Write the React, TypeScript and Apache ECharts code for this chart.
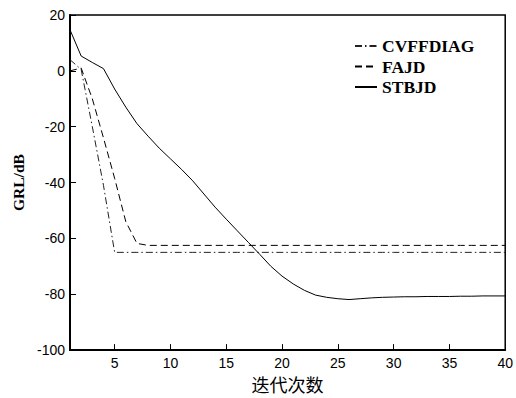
import React, { useEffect, useRef } from "react";
import * as echarts from "echarts";

const iterations = Array.from({ length: 40 }, (_, i) => i + 1);
const xTickValues = [5, 10, 15, 20, 25, 30, 35, 40];

const cvffdiag = [
  4, 0.5, -20, -41, -65, -65, -65, -65, -65, -65,
  -65, -65, -65, -65, -65, -65, -65, -65, -65, -65,
  -65, -65, -65, -65, -65, -65, -65, -65, -65, -65,
  -65, -65, -65, -65, -65, -65, -65, -65, -65, -65,
];
const fajd = [
  0, 1, -10, -24, -38.5, -54, -61.8, -62.5, -62.5, -62.5,
  -62.5, -62.5, -62.5, -62.5, -62.5, -62.5, -62.5, -62.5, -62.5, -62.5,
  -62.5, -62.5, -62.5, -62.5, -62.5, -62.5, -62.5, -62.5, -62.5, -62.5,
  -62.5, -62.5, -62.5, -62.5, -62.5, -62.5, -62.5, -62.5, -62.5, -62.5,
];
const stbjd = [
  14.7, 5.3, 3.0, 0.8, -6.5, -13, -18.9, -23.4, -27.7, -31.5,
  -35.3, -39.4, -44.1, -48.8, -53.1, -57.3, -61.5, -65.7, -70, -73.5,
  -76.3, -78.6, -80.3, -81.1, -81.6, -81.9, -81.6, -81.3, -81.1, -81.0,
  -80.9, -80.9, -80.8, -80.8, -80.8, -80.7, -80.7, -80.6, -80.6, -80.6,
];

const seriesNames = ["CVFFDIAG", "FAJD", "STBJD"];

export default function App() {
  const ref = useRef<HTMLDivElement>(null);
  useEffect(() => {
    if (!ref.current) return;
    const chart = echarts.init(ref.current, null, { renderer: "svg" });
    const mk = (vals: number[]) => iterations.map((x, i) => [x, vals[i]]);
    chart.setOption({
      animation: false,
      backgroundColor: "#fff",
      grid: {
        left: 70,
        right: 7,
        top: 15,
        bottom: 44,
        show: true,
        borderColor: "#000",
        borderWidth: 1.5,
      },
      legend: {
        orient: "vertical",
        left: 349,
        top: 32,
        itemWidth: 22,
        itemHeight: 12,
        itemGap: 2.5,
        data: seriesNames,
        itemStyle: { opacity: 0 },
        textStyle: {
          fontFamily: "Liberation Serif",
          fontWeight: "bold",
          fontSize: 17.5,
          color: "#000",
        },
      },
      xAxis: {
        type: "value",
        min: 1,
        max: 40,
        name: "迭代次数",
        nameLocation: "middle",
        nameGap: 23,
        nameTextStyle: {
          fontFamily: "Noto Sans CJK SC",
          fontSize: 18,
          color: "#000",
        },
        axisLine: { onZero: false, lineStyle: { color: "#000", width: 2 } },
        axisTick: {
          inside: true,
          length: 6,
          customValues: xTickValues,
          lineStyle: { color: "#000", width: 1 },
        },
        axisLabel: {
          customValues: xTickValues,
          fontFamily: "Liberation Sans",
          fontSize: 14,
          color: "#000",
          margin: 6,
        },
        splitLine: { show: false },
      },
      yAxis: {
        type: "value",
        min: -100,
        max: 20,
        interval: 20,
        name: "GRL/dB",
        nameLocation: "middle",
        nameGap: 35,
        nameTextStyle: {
          fontFamily: "Liberation Serif",
          fontWeight: "bold",
          fontSize: 15.5,
          color: "#000",
        },
        axisLine: { onZero: false, lineStyle: { color: "#000", width: 2 } },
        axisTick: {
          inside: true,
          length: 6,
          lineStyle: { color: "#000", width: 1 },
        },
        axisLabel: {
          fontFamily: "Liberation Sans",
          fontSize: 14,
          color: "#000",
          margin: 5,
        },
        splitLine: { show: false },
      },
      series: [
        {
          name: seriesNames[0],
          type: "line",
          data: mk(cvffdiag),
          symbol: "none",
          lineStyle: { color: "#222", width: 1, type: [7, 3, 1.5, 3] },
          itemStyle: { color: "#222" },
        },
        {
          name: seriesNames[1],
          type: "line",
          data: mk(fajd),
          symbol: "none",
          lineStyle: { color: "#000", width: 1, type: [7, 4] },
          itemStyle: { color: "#000" },
        },
        {
          name: seriesNames[2],
          type: "line",
          data: mk(stbjd),
          symbol: "none",
          lineStyle: { color: "#000", width: 1, type: "solid" },
          itemStyle: { color: "#000" },
        },
      ],
    });
    return () => chart.dispose();
  }, []);
  return (
    <div
      ref={ref}
      style={{ position: "absolute", left: 0, top: 0, width: 516, height: 398 }}
    />
  );
}
